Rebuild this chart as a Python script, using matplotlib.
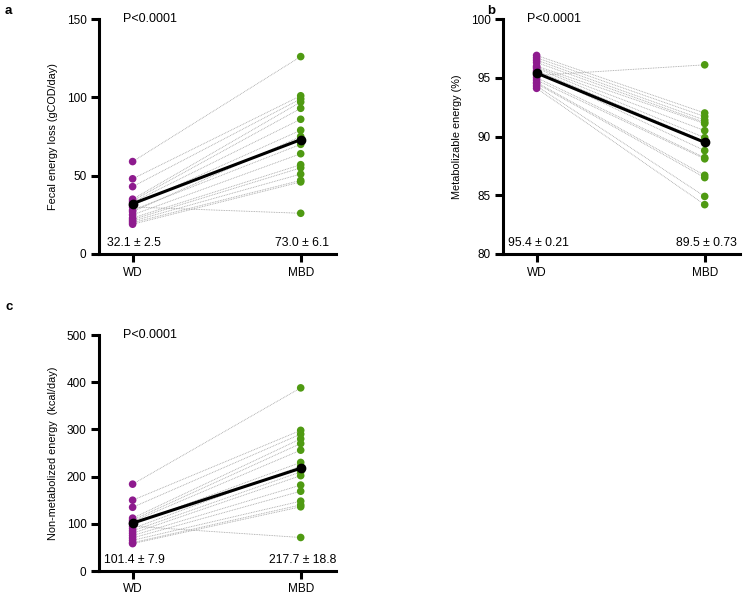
import matplotlib
matplotlib.use("Agg")
import matplotlib.pyplot as plt
import numpy as np

plt.rcParams['font.family'] = ['Liberation Sans', 'DejaVu Sans']

groups = ["WD", "MBD"]

# Panel a: fecal energy loss (gCOD/day)
a_wd = [59, 48, 43, 35, 34, 33, 31, 30, 28, 27, 25, 23, 22, 21, 20, 19]
a_mbd = [126, 101, 99, 97, 93, 86, 79, 26, 70, 75, 64, 57, 55, 51, 47, 46]
a_mean = [32.1, 73.0]
a_text = ["32.1 ± 2.5", "73.0 ± 6.1"]

# Panel b: metabolizable energy (%)
b_wd = [96.9, 96.7, 96.5, 96.3, 96.0, 95.9, 95.8, 95.6, 95.5, 95.2, 95.0, 94.8, 94.6, 94.5, 94.3, 94.1]
b_mbd = [92.0, 91.7, 91.4, 91.2, 91.1, 90.5, 89.9, 89.6, 88.8, 96.1, 88.2, 88.1, 86.7, 86.5, 84.9, 84.2]
b_mean = [95.4, 89.5]
b_text = ["95.4 ± 0.21", "89.5 ± 0.73"]

# Panel c: non-metabolized energy (kcal/day)
c_wd = [184, 150, 135, 112, 108, 105, 100, 95, 90, 85, 80, 75, 70, 65, 60, 58]
c_mbd = [388, 298, 290, 280, 270, 256, 230, 71, 222, 210, 202, 182, 169, 148, 140, 136]
c_mean = [101.4, 217.7]
c_text = ["101.4 ± 7.9", "217.7 ± 18.8"]

purple = "#8e1b8e"
green = "#4f9a12"

fig = plt.figure(figsize=(7.43, 5.96), dpi=100)

def panel(rect, wd, mbd, mean, texts, ylim, yticks, ylabel, letter, letter_pos):
    ax = fig.add_axes(rect)
    x = np.array([0, 1])
    for v0, v1 in zip(wd, mbd):
        ax.plot(x, [v0, v1], color="#a0a0a0", lw=0.6, ls=(0, (1, 1)), zorder=1)
    ax.scatter(np.zeros(len(wd)), wd, s=30, color=purple, zorder=2, edgecolors='none')
    ax.scatter(np.ones(len(mbd)), mbd, s=30, color=green, zorder=2, edgecolors='none')
    ax.plot(x, mean, color="black", lw=2.2, marker='o', ms=6, zorder=3)
    ax.set_xlim(-0.2, 1.21)
    ax.set_ylim(*ylim)
    ax.set_yticks(yticks)
    ax.set_xticks(x)
    ax.set_xticklabels(groups)
    for s in ["top", "right"]:
        ax.spines[s].set_visible(False)
    for s in ["left", "bottom"]:
        ax.spines[s].set_linewidth(2.2)
    ax.tick_params(axis='both', direction='out', length=6, width=2.2, labelsize=8.5, pad=3)
    ax.set_ylabel(ylabel, fontsize=7.8, labelpad=6)
    ax.text(0.10, 1.0, "P<0.0001", transform=ax.transAxes, fontsize=9, va='center', ha='left')
    span = ylim[1] - ylim[0]
    for xi, t in zip(x, texts):
        ax.text(xi + 0.01, ylim[0] + 0.045 * span, t, fontsize=8.8, ha='center', va='center')
    fig.text(letter_pos[0] / 743, 1 - letter_pos[1] / 596, letter, fontsize=9.5,
             fontweight='bold', ha='left', va='center')
    return ax

panel([99 / 743, 1 - 254 / 596, 237 / 743, 235 / 596], a_wd, a_mbd, a_mean, a_text,
      (0, 150), [0, 50, 100, 150], "Fecal energy loss (gCOD/day)", "a", (5, 11))
panel([503 / 743, 1 - 254 / 596, 237 / 743, 235 / 596], b_wd, b_mbd, b_mean, b_text,
      (80, 100), [80, 85, 90, 95, 100], "Metabolizable energy (%)", "b", (487, 11))
panel([99 / 743, 1 - 571 / 596, 237 / 743, 236 / 596], c_wd, c_mbd, c_mean, c_text,
      (0, 500), [0, 100, 200, 300, 400, 500], "Non-metabolized energy  (kcal/day)", "c", (5, 307))

fig.savefig("out.png", dpi=100)
